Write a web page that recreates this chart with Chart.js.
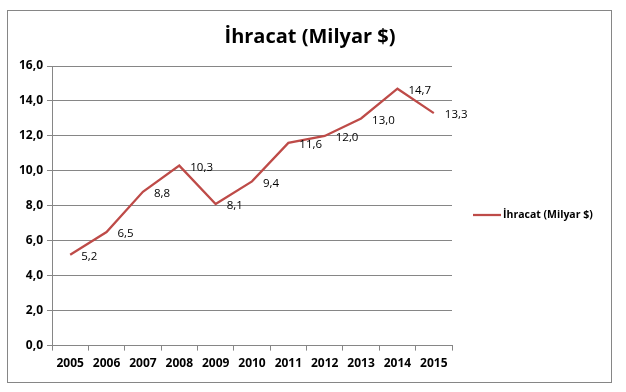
<!DOCTYPE html>
<html>
<head>
<meta charset="utf-8">
<script src="https://cdn.jsdelivr.net/npm/chart.js@4"></script>
<style>
html,body{margin:0;padding:0;background:#fff;}
#wrap{position:absolute;left:0;top:0;width:626px;height:392px;}
</style>
</head>
<body>
<div id="wrap"><canvas id="c" width="626" height="392"></canvas></div>
<script>
const years = ['2005','2006','2007','2008','2009','2010','2011','2012','2013','2014','2015'];
const exportsBn = [5.2, 6.5, 8.8, 10.3, 8.1, 9.4, 11.6, 12.0, 13.0, 14.7, 13.3];
const seriesName = 'İhracat (Milyar $)';
const chartTitle = 'İhracat (Milyar $)';

const LINE = '#BE4B48';
const GRID = '#868686';
const FONT = "'Open Sans', 'DejaVu Sans', sans-serif";

const fmt = v => v.toFixed(1).replace('.', ',');

const framePlugin = {
  id: 'frame',
  beforeDraw(chart) {
    const ctx = chart.ctx;
    ctx.save();
    ctx.fillStyle = '#fff';
    ctx.fillRect(0, 0, chart.width, chart.height);
    ctx.strokeStyle = GRID;
    ctx.lineWidth = 1;
    ctx.strokeRect(7.5, 10.5, 604, 372);
    ctx.font = 'bold 20px ' + FONT;
    ctx.fillStyle = '#000';
    ctx.textAlign = 'center';
    ctx.textBaseline = 'middle';
    ctx.fillText(chartTitle, 310, 37);
    ctx.restore();
  }
};

const labelPlugin = {
  id: 'valueLabels',
  afterDatasetsDraw(chart) {
    const ctx = chart.ctx;
    const meta = chart.getDatasetMeta(0);
    const data = chart.data.datasets[0].data;
    ctx.save();
    ctx.font = '11.5px ' + FONT;
    ctx.fillStyle = '#000';
    ctx.textAlign = 'left';
    ctx.textBaseline = 'middle';
    meta.data.forEach((pt, i) => {
      ctx.fillText(fmt(data[i]), pt.x + 11, pt.y + 2);
    });
    ctx.restore();
  }
};

const legendPlugin = {
  id: 'sideLegend',
  afterDraw(chart) {
    const ctx = chart.ctx;
    const ds = chart.data.datasets[0];
    const y = 215;
    ctx.save();
    ctx.strokeStyle = ds.borderColor;
    ctx.lineWidth = 2.25;
    ctx.beginPath();
    ctx.moveTo(473, y);
    ctx.lineTo(501, y);
    ctx.stroke();
    ctx.font = 'bold 10.5px ' + FONT;
    ctx.fillStyle = '#000';
    ctx.textAlign = 'left';
    ctx.textBaseline = 'middle';
    ctx.fillText(ds.label, 503, y);
    ctx.restore();
  }
};

new Chart(document.getElementById('c'), {
  type: 'line',
  data: {
    labels: years,
    datasets: [{
      label: seriesName,
      data: exportsBn,
      borderColor: LINE,
      backgroundColor: LINE,
      borderWidth: 2.25,
      pointRadius: 0,
      tension: 0,
      fill: false
    }]
  },
  options: {
    responsive: false,
    animation: false,
    layout: { padding: { left: 0, right: 174, top: 66, bottom: 15 } },
    plugins: {
      legend: { display: false },
      tooltip: { enabled: false },
      title: { display: false }
    },
    scales: {
      x: {
        offset: true,
        grid: {
          offset: true,
          drawOnChartArea: false,
          drawTicks: true,
          tickLength: 5,
          color: GRID
        },
        border: { display: true, color: GRID, width: 1 },
        ticks: {
          color: '#000',
          font: { family: FONT, size: 12, weight: 'bold' },
          padding: 6,
          maxRotation: 0,
          autoSkip: false
        }
      },
      y: {
        min: 0,
        max: 16,
        afterFit(scale) { scale.width = 52; },
        grid: {
          color: GRID,
          drawTicks: true,
          tickLength: 5,
          lineWidth: 1
        },
        border: { display: true, color: GRID, width: 1 },
        ticks: {
          stepSize: 2,
          color: '#000',
          font: { family: FONT, size: 12, weight: 'bold' },
          padding: 4,
          callback: v => fmt(v)
        }
      }
    }
  },
  plugins: [framePlugin, labelPlugin, legendPlugin]
});
</script>
</body>
</html>
